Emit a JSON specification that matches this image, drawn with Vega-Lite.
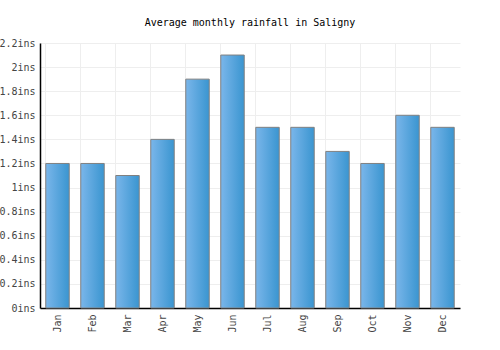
{
  "$schema": "https://vega.github.io/schema/vega-lite/v6.json",
  "autosize": "none",
  "width": 420,
  "height": 265,
  "padding": {"left": 40, "top": 43, "right": 40, "bottom": 42},
  "title": {"text": "Average monthly rainfall in Saligny", "font": "DejaVu Sans Mono", "fontSize": 10, "fontWeight": "normal", "color": "#000", "offset": 10, "anchor": "middle"},
  "config": {"view": {"stroke": null}},
  "data": {"values": [
    {"month": "Jan", "rain": 1.2},
    {"month": "Feb", "rain": 1.2},
    {"month": "Mar", "rain": 1.1},
    {"month": "Apr", "rain": 1.4},
    {"month": "May", "rain": 1.9},
    {"month": "Jun", "rain": 2.1},
    {"month": "Jul", "rain": 1.5},
    {"month": "Aug", "rain": 1.5},
    {"month": "Sep", "rain": 1.3},
    {"month": "Oct", "rain": 1.2},
    {"month": "Nov", "rain": 1.6},
    {"month": "Dec", "rain": 1.5}
  ]},
  "mark": {"type": "bar", "stroke": "#808080", "strokeWidth": 1,
    "color": {"gradient": "linear", "x1": 0, "x2": 1, "y1": 0, "y2": 0,
      "stops": [{"offset": 0, "color": "#7ab6ea"}, {"offset": 1, "color": "#3a95d0"}]}},
  "encoding": {
    "x": {"field": "month", "type": "nominal", "sort": null,
      "scale": {"paddingInner": 0.33, "paddingOuter": 0.165},
      "axis": {"title": null, "labelAngle": -90, "labelFont": "DejaVu Sans Mono", "labelFontSize": 10, "labelColor": "#444",
        "domainColor": "#000", "domainWidth": 1.5, "ticks": false, "grid": true, "gridColor": "#eeeeee", "bandPosition": 0, "labelPadding": 6, "labelBaseline": "middle", "labelAlign": "right"}},
    "y": {"field": "rain", "type": "quantitative",
      "scale": {"domain": [0, 2.2], "nice": false},
      "axis": {"title": null, "values": [0, 0.2, 0.4, 0.6, 0.8, 1, 1.2, 1.4, 1.6, 1.8, 2, 2.2],
        "labelExpr": "datum.value + 'ins'", "labelFont": "DejaVu Sans Mono", "labelFontSize": 10, "labelColor": "#444",
        "domainColor": "#000", "domainWidth": 1.5, "ticks": false, "gridColor": "#eeeeee", "labelPadding": 5}}
  }
}
